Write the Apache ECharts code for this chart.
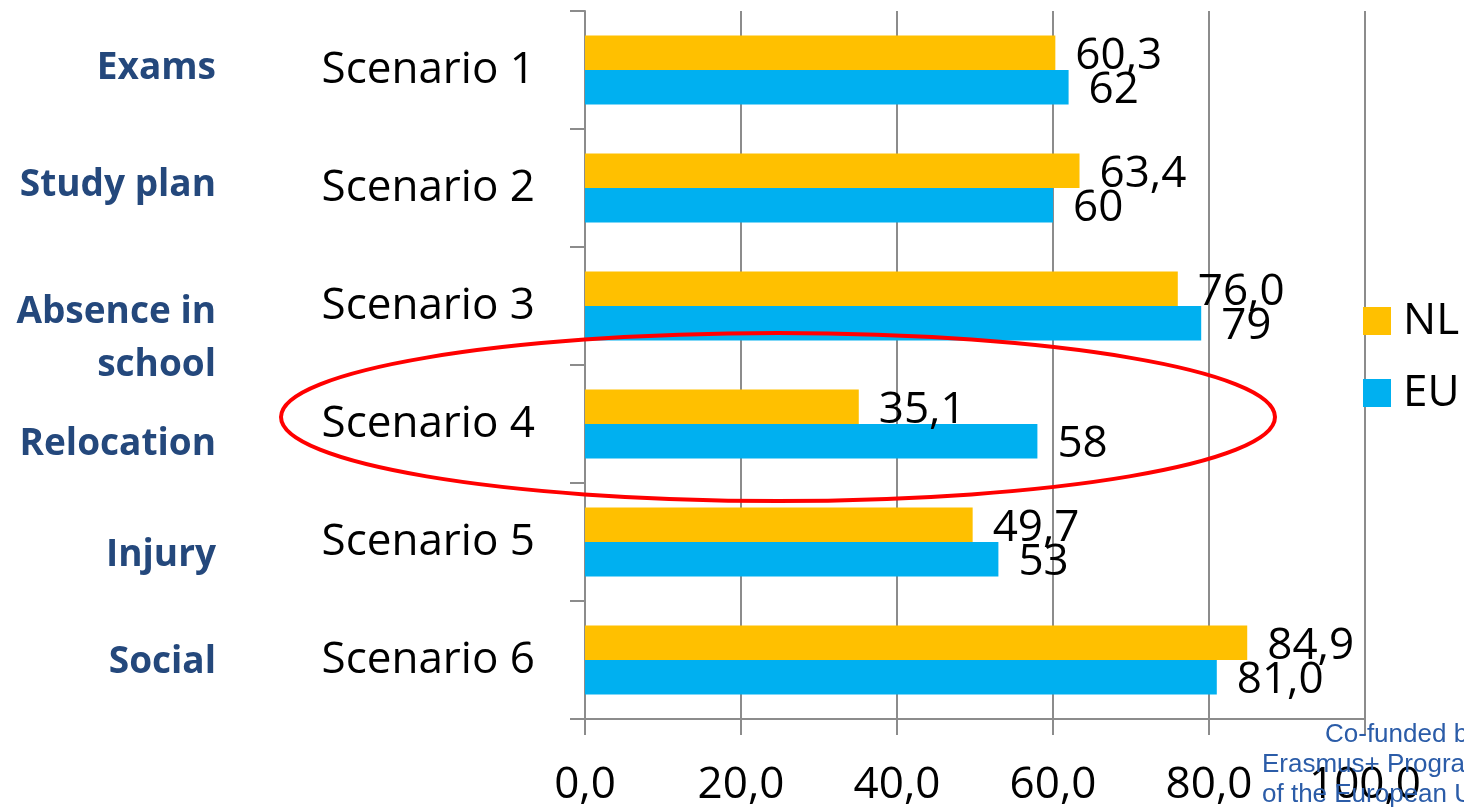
<!DOCTYPE html>
<html><head><meta charset="utf-8">
<script src="https://cdn.jsdelivr.net/npm/echarts@6/dist/echarts.min.js"></script>
<style>html,body{margin:0;padding:0;background:#fff}#c{width:1464px;height:808px}</style>
</head><body><div id="c"></div>
<script>
const categories = ['Scenario 1','Scenario 2','Scenario 3','Scenario 4','Scenario 5','Scenario 6'];
const topics = ['Exams','Study plan','Absence in\nschool','Relocation','Injury','Social'];
const nlValues = [60.3, 63.4, 76.0, 35.1, 49.7, 84.9];
const euValues = [62, 60, 79, 58, 53, 81.0];
const euLabels = ['62','60','79','58','53','81,0'];
const xTicks = [0, 20, 40, 60, 80, 100];
const seriesNames = ['NL','EU'];
const fundText = ['Co-funded by the','Erasmus+ Programme','of the European Union'];

const FONT = '"Open Sans", "Noto Sans", sans-serif';
const AX = '#8c8c8c';
const chart = echarts.init(document.getElementById('c'), null, {renderer:'canvas'});
const fmt1 = v => v.toFixed(1).replace('.', ',');

const option = {
  animation: false,
  grid: {left: 585, right: 99, top: 11, bottom: 89, containLabel: false},
  legend: {
    orient: 'vertical', left: 1358, top: 294,
    itemWidth: 28, itemHeight: 28, itemGap: 28,
    icon: 'rect',
    data: seriesNames,
    textStyle: {fontFamily: FONT, fontSize: 44, color: '#000', lineHeight: 42, padding: [0,0,0,7]}
  },
  xAxis: {
    type: 'value', min: xTicks[0], max: xTicks[xTicks.length-1], interval: 20,
    axisLine: {show: true, lineStyle: {color: AX, width: 2}},
    axisTick: {show: true, length: 16, lineStyle: {color: AX, width: 2}},
    splitLine: {show: true, lineStyle: {color: AX, width: 2}},
    axisLabel: {fontFamily: FONT, fontSize: 44, color: '#000', margin: 44, formatter: v => fmt1(v)}
  },
  yAxis: {
    type: 'category', data: categories, inverse: true,
    axisLine: {show: true, lineStyle: {color: AX, width: 2}},
    axisTick: {show: true, length: 15, lineStyle: {color: AX, width: 2}},
    axisLabel: {fontFamily: FONT, fontSize: 44, color: '#000', margin: 50, padding: [6,0,0,0]}
  },
  series: [
    {name: seriesNames[0], type: 'bar', data: nlValues, barWidth: 34.5, barGap: '0%',
     itemStyle: {color: '#FFC000'},
     label: {show: true, position: 'right', distance: 20, offset: [0, 4], fontFamily: FONT, fontSize: 44, color: '#000',
       formatter: p => fmt1(p.value)}},
    {name: seriesNames[1], type: 'bar', data: euValues, barWidth: 34.5, barGap: '0%',
     itemStyle: {color: '#00B0F0'},
     label: {show: true, position: 'right', distance: 20, offset: [0, 3], fontFamily: FONT, fontSize: 44, color: '#000',
       formatter: p => euLabels[p.dataIndex]}}
  ]
};
chart.setOption(option);

// annotations
const topicY = [68, 185, 339, 444, 555, 662];
const g = [];
topics.forEach((t, i) => {
  g.push({type: 'text', x: 216, y: topicY[i], z: 10,
    style: {text: t, align: 'right', verticalAlign: 'middle', fill: '#24487c',
      font: 'bold 37px ' + FONT, lineHeight: 53}});
});
const c4 = chart.convertToPixel({yAxisIndex: 0}, categories[3]);
g.push({type: 'ellipse', z: 20, shape: {cx: 778, cy: c4 - 7, rx: 497, ry: 84},
  style: {fill: 'none', stroke: '#ff0000', lineWidth: 4}});
fundText.forEach((t, i) => {
  g.push({type: 'text', x: i === 0 ? 1325 : 1262, y: 735 + i * 30, z: 5,
    style: {text: t, align: 'left', verticalAlign: 'middle', fill: '#2b5ca8',
      font: '26px "Liberation Sans", Arial, sans-serif'}});
});
chart.setOption({graphic: g});
</script>
</body></html>
